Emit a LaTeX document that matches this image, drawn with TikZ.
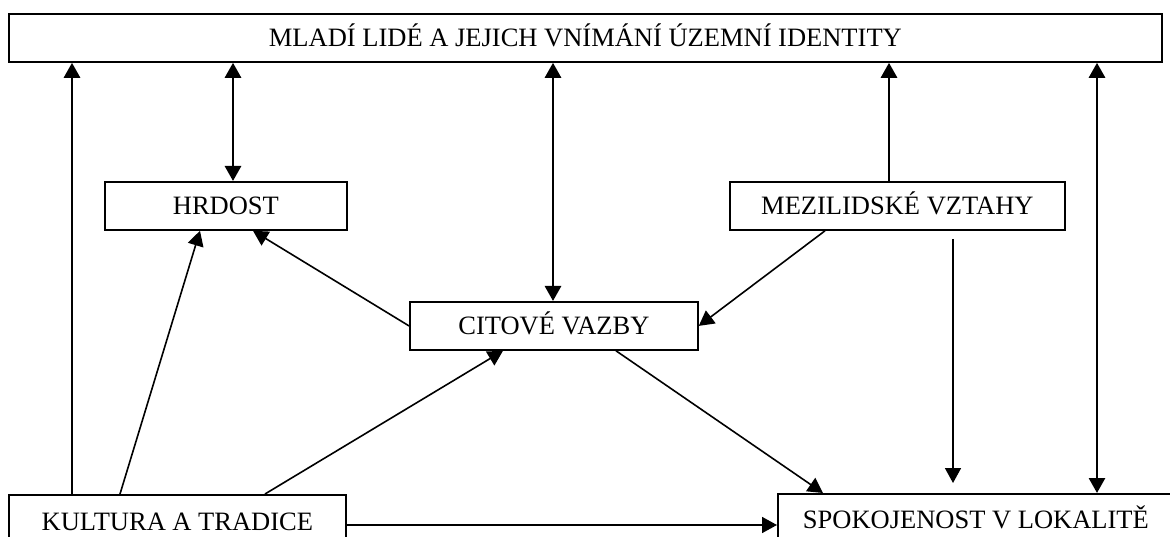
\documentclass[tikz,border=0pt]{standalone}
\usepackage{fontspec}
\setmainfont{Liberation Serif}
\usetikzlibrary{arrows.meta}

\begin{document}
\begin{tikzpicture}[x=1pt,y=-1pt,
	every node/.style={draw,line width=1.8pt,rectangle,inner sep=0pt,anchor=north west,
		font=\fontsize{26.5}{30}\selectfont,text height=18pt,text depth=0pt},
	tip/.style={-{Triangle[length=15pt,width=16pt]}},
	bold link/.style={tip,line width=2.8pt},
	bold both/.style={{Triangle[length=15pt,width=16pt]}-{Triangle[length=15pt,width=16pt]},line width=2.8pt},
	thin link/.style={tip,line width=1.6pt}]
    \useasboundingbox (0,0) rectangle (1170,537);
    \clip (0,0) rectangle (1170,537);
    \node[minimum width=1153pt,minimum height=48pt] (mli) at (8,13) {MLADÍ LIDÉ A JEJICH VNÍMÁNÍ ÚZEMNÍ IDENTITY};
    \node[minimum width=242pt,minimum height=48pt] (hrd) at (104,181) {HRDOST};
    \node[minimum width=335pt,minimum height=48pt] (mez) at (729,181) {MEZILIDSKÉ VZTAHY};
    \node[minimum width=288pt,minimum height=48pt] (cit) at (409,301) {CITOVÉ VAZBY};
    \node[minimum width=337pt,minimum height=54pt] (kul) at (8,494) {KULTURA A TRADICE};
    \node[minimum width=396pt,minimum height=52pt] (spo) at (777,493) {SPOKOJENOST V LOKALITĚ};

    % vazby k hornimu ramecku
    \draw[bold link] (kul.north -| 72,0) -- (mli.south -| 72,0);
    \draw[bold both] (hrd.north -| 233,0) -- (mli.south -| 233,0);
    \draw[bold both] (cit.north -| 553,0) -- (mli.south -| 553,0);
    \draw[bold link] (mez.north -| 889,0) -- (mli.south -| 889,0);
    \draw[bold both] (spo.north -| 1097,0) -- (mli.south -| 1097,0);

    \draw[thin link] ([xshift=112pt]kul.north west) -- ([xshift=96pt]hrd.south west);
    \draw[thin link] (cit.west) -- ([xshift=149pt]hrd.south west);
    \draw[thin link] ([xshift=257pt]kul.north west) -- ([xshift=94pt]cit.south west);
    \draw[thin link] ([xshift=96pt]mez.south west) -- (cit.east);
    \draw[thin link] ([xshift=207pt]cit.south west) -- ([xshift=46pt]spo.north west);
    \draw[thin link,shorten <=8pt,shorten >=10pt] (mez.south -| 953,0) -- (spo.north -| 953,0);
    \draw[thin link] ([yshift=-31pt]kul.north east) -- ([yshift=-32pt]spo.north west);
  \end{tikzpicture}
\end{document}
